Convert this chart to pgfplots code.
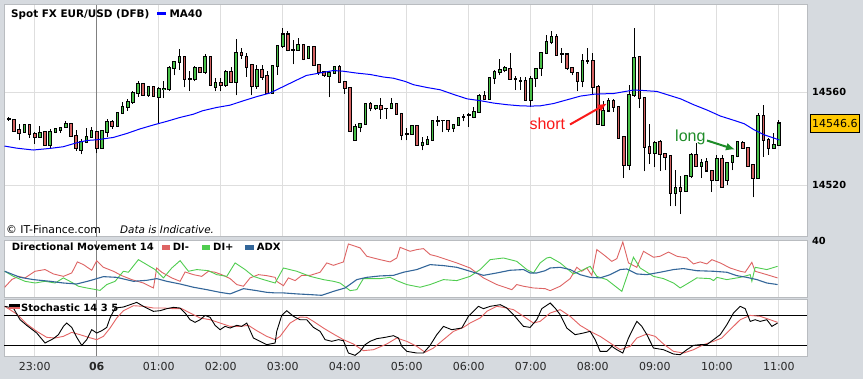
\documentclass[border=0pt]{standalone}
\usepackage{pgfplots}
\usepackage{pgfplotstable}
\pgfplotsset{compat=1.18}
\usepackage{fontspec}
\setmainfont{DejaVu Sans}
\newfontfamily\arialfont{Liberation Sans}
\usetikzlibrary{arrows.meta}
\definecolor{bgc}{RGB}{214,218,223}
\definecolor{bordc}{RGB}{185,188,192}
\definecolor{gridc}{RGB}{222,222,222}
\definecolor{upc}{RGB}{72,192,72}
\definecolor{dnc}{RGB}{212,98,98}
\definecolor{dimc}{RGB}{222,100,100}
\definecolor{dipc}{RGB}{80,205,80}
\definecolor{adxc}{RGB}{51,102,153}
\definecolor{stdc}{RGB}{228,100,100}
\definecolor{pricebox}{RGB}{255,200,0}
\definecolor{shortc}{RGB}{250,25,25}
\definecolor{longc}{RGB}{30,140,40}
\definecolor{tlab}{RGB}{40,40,40}

\pgfplotstableread{
i o h l c
0 14548.4 14549.1 14547.7 14548.4
1 14548.2 14548.4 14543.1 14543.1
2 14543.7 14546.2 14539.2 14542.2
3 14542.8 14546.0 14542.5 14545.9
4 14546.1 14546.4 14540.2 14541.9
5 14542.1 14542.8 14537.6 14540.5
6 14540.6 14545.5 14540.5 14542.7
7 14542.9 14543.1 14537.1 14537.3
8 14537.3 14544.2 14535.9 14543.1
9 14542.9 14544.7 14542.4 14544.1
10 14543.8 14545.1 14542.5 14544.5
11 14544.8 14547.5 14544.7 14546.4
12 14546.4 14546.5 14540.9 14541.1
13 14541.2 14543.7 14534.8 14535.9
14 14535.1 14539.9 14533.2 14538.5
15 14538.5 14544.4 14538.1 14540.9
16 14540.8 14544.8 14540.5 14543.4
17 14542.8 14542.9 14533.6 14535.9
18 14535.9 14543.8 14535.8 14543.4
19 14542.8 14548.4 14540.9 14547.2
20 14547.2 14547.8 14544.2 14545.4
21 14545.4 14551.4 14545.2 14551.1
22 14551.0 14555.8 14550.7 14553.7
23 14553.7 14557.1 14552.1 14555.7
24 14555.6 14560.4 14555.1 14559.6
25 14559.6 14564.6 14558.1 14563.4
26 14563.4 14563.7 14558.4 14558.7
27 14558.6 14562.4 14558.1 14562.3
28 14562.3 14562.4 14558.0 14558.1
29 14557.8 14562.3 14546.2 14561.3
30 14561.3 14564.6 14557.4 14561.6
31 14561.3 14571.2 14560.6 14570.3
32 14570.3 14573.5 14567.2 14572.9
33 14572.9 14578.5 14569.7 14575.1
34 14575.1 14575.2 14562.0 14565.6
35 14565.6 14568.9 14560.4 14565.6
36 14565.6 14571.2 14564.6 14570.3
37 14570.3 14570.6 14568.5 14568.6
38 14568.5 14576.5 14567.7 14575.1
39 14575.1 14575.2 14562.8 14562.9
40 14562.2 14566.3 14560.3 14563.9
41 14563.9 14566.3 14560.3 14562.9
42 14562.9 14569.5 14562.4 14568.6
43 14568.6 14570.8 14564.2 14564.3
44 14564.3 14582.9 14558.6 14576.8
45 14576.8 14579.1 14574.2 14575.8
46 14575.3 14576.9 14566.7 14570.8
47 14571.6 14571.8 14558.6 14562.4
48 14562.4 14571.6 14561.3 14569.5
49 14569.5 14571.6 14565.2 14566.5
50 14566.9 14568.9 14559.6 14559.7
51 14559.7 14571.3 14559.6 14571.2
52 14571.2 14579.9 14567.5 14579.8
53 14579.8 14587.7 14579.2 14584.9
54 14584.9 14586.2 14577.5 14577.9
55 14578.4 14582.4 14572.0 14578.2
56 14578.2 14583.2 14577.8 14580.2
57 14580.2 14580.6 14573.8 14574.2
58 14574.5 14579.5 14574.2 14579.4
59 14579.5 14579.9 14571.5 14571.6
60 14571.6 14571.7 14567.5 14568.5
61 14568.7 14568.9 14566.7 14567.3
62 14566.7 14569.2 14557.7 14568.2
63 14568.2 14571.2 14567.9 14571.0
64 14571.0 14571.5 14564.2 14564.3
65 14564.3 14564.4 14559.3 14561.6
66 14561.7 14561.8 14543.0 14543.1
67 14539.4 14546.2 14539.2 14545.1
68 14544.8 14546.5 14542.7 14546.4
69 14546.2 14554.9 14546.1 14554.8
70 14554.8 14555.7 14551.7 14553.1
71 14553.0 14554.2 14552.3 14554.1
72 14554.1 14557.4 14548.5 14552.7
73 14553.0 14553.1 14548.4 14553.0
74 14553.0 14557.4 14552.7 14554.8
75 14554.8 14555.1 14550.4 14550.5
76 14550.5 14550.6 14539.2 14541.5
77 14542.1 14544.5 14539.2 14542.1
78 14541.9 14545.7 14541.8 14545.5
79 14545.7 14545.8 14537.2 14537.3
80 14537.3 14540.9 14534.9 14538.2
81 14537.6 14541.2 14537.5 14539.5
82 14539.4 14547.8 14539.3 14547.7
83 14547.7 14549.7 14545.4 14547.7
84 14547.8 14547.9 14542.7 14547.8
85 14547.8 14547.9 14542.9 14544.2
86 14544.4 14546.0 14542.8 14545.9
87 14545.7 14548.9 14545.6 14548.8
88 14549.2 14550.5 14547.4 14549.2
89 14550.3 14551.0 14544.9 14550.3
90 14549.2 14553.8 14548.7 14551.4
91 14551.4 14559.3 14551.3 14558.4
92 14558.4 14560.7 14556.9 14557.0
93 14557.1 14566.3 14557.0 14566.2
94 14565.9 14569.5 14563.4 14568.7
95 14568.7 14574.2 14567.2 14569.6
96 14569.5 14571.3 14568.5 14570.5
97 14570.0 14576.9 14565.5 14565.6
98 14565.6 14567.0 14560.9 14565.6
99 14565.0 14566.5 14561.0 14565.0
100 14564.9 14566.7 14556.3 14556.4
101 14556.4 14567.0 14553.7 14565.7
102 14566.0 14570.0 14562.4 14569.9
103 14570.2 14576.9 14566.9 14576.8
104 14576.6 14584.7 14576.5 14581.5
105 14581.5 14586.4 14580.6 14583.9
106 14583.9 14585.1 14576.0 14576.1
107 14576.6 14579.2 14572.6 14576.6
108 14576.3 14576.4 14569.6 14570.5
109 14570.3 14570.4 14567.2 14568.7
110 14568.2 14568.3 14560.3 14564.6
111 14564.6 14576.3 14562.0 14573.5
112 14573.5 14579.2 14572.2 14573.5
113 14573.5 14576.8 14558.9 14562.2
114 14562.2 14563.0 14545.9 14546.2
115 14545.9 14556.0 14545.5 14552.0
116 14552.0 14557.4 14551.4 14556.3
117 14556.3 14557.1 14551.4 14553.5
118 14553.7 14553.8 14540.1 14540.2
119 14540.8 14540.9 14523.0 14528.7
120 14528.7 14562.9 14526.3 14558.9
121 14558.6 14587.8 14558.1 14574.9
122 14575.2 14575.3 14553.1 14557.4
123 14557.4 14557.5 14525.9 14536.2
124 14536.5 14546.5 14529.0 14533.6
125 14533.6 14538.8 14527.6 14538.2
126 14538.5 14539.4 14526.2 14533.3
127 14533.3 14533.4 14526.3 14532.0
128 14532.6 14532.7 14510.8 14516.6
129 14516.6 14526.3 14510.8 14518.7
130 14518.9 14524.0 14507.5 14517.4
131 14517.4 14524.0 14517.3 14523.9
132 14523.9 14533.8 14523.0 14533.2
133 14533.0 14538.1 14528.1 14528.2
134 14528.2 14531.3 14523.0 14529.6
135 14530.2 14531.6 14525.9 14526.2
136 14526.3 14526.4 14517.0 14522.2
137 14522.2 14532.8 14522.0 14531.3
138 14531.3 14532.8 14519.0 14519.1
139 14522.0 14529.8 14519.9 14529.7
140 14529.7 14532.7 14526.3 14532.6
141 14532.6 14539.1 14531.9 14538.6
142 14538.1 14538.8 14535.6 14535.9
143 14535.9 14536.2 14528.2 14528.3
144 14528.7 14528.8 14514.7 14523.0
145 14523.0 14551.0 14522.7 14550.0
146 14550.0 14554.6 14532.3 14539.5
147 14539.5 14540.2 14533.0 14535.9
148 14535.9 14542.4 14535.6 14537.3
149 14537.1 14548.1 14537.0 14546.6
}\candles

\pgfplotstableread{
i v
-0.85 14536.8
1.5 14535.9
4.7 14535.1
8.0 14535.8
10.5 14536.5
13.1 14538.2
15.1 14539.2
17 14539.5
20.2 14540.5
22.8 14542.2
25.4 14544.2
28 14545.9
30.5 14547.4
33.1 14549.1
35.7 14550.5
37.5 14552.0
40.2 14553.4
42.8 14554.4
45.4 14556.3
48 14558.1
50.5 14559.6
53.1 14562.4
55.7 14565.2
57.6 14567.2
59.6 14568.0
62.8 14569.3
64.7 14569.0
67.3 14568.2
69.9 14567.6
72.5 14566.5
74.4 14566.0
76.7 14564.6
78.3 14563.2
80.9 14562.0
83.5 14561.0
86.2 14558.9
88.7 14557.1
91.3 14556.3
93.8 14555.3
96.4 14554.6
99 14554.1
100.9 14554.0
102.8 14554.1
105.4 14555.1
108 14556.7
110.6 14558.3
113.2 14559.1
115.4 14559.3
117 14559.4
119.3 14560.3
120.9 14560.9
122.8 14560.7
125.4 14560.3
127.4 14558.9
130 14557.1
132.5 14554.6
135.1 14552.3
137.7 14549.7
140.4 14547.8
142.3 14546.4
144.2 14543.8
146.2 14541.6
148.1 14540.2
149.1 14539.4
}\madata

\pgfplotstableread{
i v
-0.81 7.1
0.55 12.5
1.84 14.8
3.13 13.7
5.06 18.4
7.0 19.6
8.61 16.5
10.55 14.8
12.16 17.2
13.26 25.0
14.42 23.1
16.03 19.1
17.0 25.9
18.29 21.2
20.23 18.4
21.84 15.3
23.77 12.5
26.03 10.1
27.97 6.6
28.61 20.7
29.58 17.7
31.52 13.7
33.13 11.3
34.1 17.9
35.71 16.0
37.32 14.8
38.61 18.4
39.9 17.7
41.19 16.0
42.81 13.2
44.1 9.0
45.39 7.8
46.68 13.7
48.29 16.0
49.9 15.3
51.52 14.1
51.83 11.3
53.12 8.2
54.09 13.7
55.38 11.8
56.67 15.5
58.28 15.5
60.22 17.7
61.51 24.3
62.8 22.6
64.73 25.0
65.7 37.7
67.96 34.9
69.25 29.0
71.83 26.6
73.77 25.0
75.06 27.8
75.7 35.3
77.64 32.5
78.93 33.7
80.22 34.4
81.51 30.2
82.8 29.0
86.67 24.3
89.25 20.7
91.83 13.7
94.41 9.0
96.35 6.6
97.32 5.4
98.28 9.0
99.57 7.8
101.51 6.6
103.77 6.1
104.74 4.7
106.67 7.8
108.61 13.2
109.9 21.2
110.86 18.4
111.83 20.7
112.8 15.5
113.77 33.7
115.06 30.2
116.67 25.4
117.64 27.3
118.8 39.1
119.9 24.3
121.51 21.2
122.8 32.5
124.74 28.3
126.03 29.0
127.64 32.0
129.25 29.0
131.19 27.8
132.48 23.6
133.77 25.0
135.06 23.6
136.03 26.6
137.64 24.3
139.57 20.7
141.51 18.4
142.48 17.7
143.77 24.7
144.41 18.4
146.67 16.0
148.74 13.7
}\dimdata

\pgfplotstableread{
i v
-0.81 18.4
0.87 14.8
3.13 11.3
5.06 10.1
7.0 11.3
8.94 10.1
10.55 13.7
12.16 10.6
13.45 7.8
15.06 6.6
17.64 4.9
18.94 9.0
20.55 11.3
22.16 18.4
23.13 17.7
25.06 26.6
26.68 23.1
28.29 19.6
29.9 13.7
31.52 20.7
33.13 25.9
34.74 18.4
36.35 19.6
38.61 18.8
40.23 16.0
42.16 14.8
43.77 24.3
45.71 19.6
47.32 14.8
49.26 12.5
51.52 10.1
53.12 20.7
55.7 18.4
58.28 14.8
60.86 12.5
62.8 11.3
64.09 10.1
66.03 4.7
67.32 5.4
68.6 13.2
71.83 13.2
73.77 14.1
75.06 11.8
76.99 9.0
79.57 7.1
81.51 9.0
84.09 12.5
86.67 11.8
89.25 14.8
91.19 19.6
93.12 26.6
95.7 27.8
98.28 25.4
100.22 19.6
101.51 17.2
102.8 24.3
104.09 27.8
104.74 28.3
106.67 24.3
109.25 16.5
111.19 19.6
112.48 21.9
113.77 14.8
115.7 12.5
118.61 4.2
120.86 28.3
122.16 20.7
124.74 14.8
126.67 13.2
128.61 10.1
129.9 6.6
131.83 10.8
133.12 13.7
135.7 13.2
136.35 11.8
137.0 14.1
138.93 12.5
141.51 14.1
143.45 16.0
143.77 11.3
144.41 21.2
146.67 19.6
148.74 21.9
}\dipdata

\pgfplotstableread{
i v
-0.81 18.4
2.16 14.1
4.74 12.5
7.97 11.3
10.55 10.1
13.13 9.4
15.71 11.8
18.29 14.6
20.87 14.1
24.1 11.3
26.68 12.0
28.61 13.2
30.55 11.3
33.13 9.4
35.71 7.1
38.29 5.4
40.87 3.5
42.81 2.4
45.39 6.1
47.97 4.7
49.9 3.5
51.52 3.1
53.12 3.1
55.7 2.4
58.28 1.9
60.54 1.4
62.8 4.2
65.06 6.6
67.32 12.5
69.25 14.1
71.83 15.1
74.41 15.5
76.35 17.7
78.93 19.6
81.51 23.1
84.09 22.4
86.67 21.2
89.25 18.4
91.83 15.5
94.41 17.2
96.99 19.1
99.57 19.6
100.86 17.2
102.15 17.2
103.77 18.8
104.74 20.7
106.67 21.2
108.61 19.6
110.54 16.0
112.48 14.1
114.41 13.7
116.35 16.0
118.28 19.6
119.57 20.0
121.51 16.5
123.45 16.0
126.03 17.7
128.61 19.6
130.54 20.3
133.12 18.8
136.35 18.4
138.93 17.7
140.86 15.3
142.8 14.1
144.74 12.5
146.67 10.1
148.74 9.0
}\adxdata

\pgfplotstableread{
i v
-0.81 90.1
0.87 87.3
2.16 67.6
3.45 58.1
5.39 45.2
7.0 28.4
8.61 35.7
9.58 42.4
10.55 56.4
11.19 62.0
12.16 54.7
13.13 37.9
14.1 24.4
15.06 34.0
16.03 50.8
17.0 45.2
17.97 49.1
18.94 54.7
19.58 70.5
20.55 87.3
22.16 89.0
23.45 92.9
24.74 96.8
26.03 90.1
27.97 81.7
29.26 82.8
30.55 86.2
31.84 88.4
33.13 87.3
34.1 78.9
35.06 67.6
36.03 63.2
37.0 67.6
37.97 74.9
38.94 71.6
39.9 58.1
40.87 50.8
41.84 56.4
42.81 53.6
44.1 58.1
45.06 56.4
46.03 62.0
47.32 36.8
48.61 31.2
49.9 25.6
51.52 28.4
51.83 48.0
52.8 74.9
53.77 82.8
55.06 73.3
56.35 67.6
57.64 67.6
58.93 54.7
60.22 48.0
61.19 34.0
62.48 31.2
63.77 34.0
64.73 32.3
65.7 11.5
66.99 7.6
67.96 14.3
68.93 25.6
69.89 31.2
71.19 35.7
72.8 37.9
74.41 40.7
75.38 36.8
76.03 22.8
77.0 14.3
78.93 11.5
80.22 11.5
81.51 24.4
82.8 42.4
84.09 56.4
85.7 50.8
87.64 53.6
88.93 73.3
90.86 90.1
91.83 86.2
93.12 90.1
95.06 92.9
96.35 87.3
97.64 76.1
99.57 56.4
100.86 54.7
102.15 67.6
103.12 86.2
104.74 95.7
105.7 87.3
106.67 76.1
107.96 53.6
109.57 42.4
111.19 45.2
112.48 48.0
113.45 34.0
114.41 14.3
115.7 14.3
116.67 22.8
117.64 17.1
118.8 11.5
119.9 36.8
120.86 53.6
121.51 64.8
122.48 56.4
123.45 42.4
124.74 19.9
126.67 17.1
128.61 9.8
129.9 8.7
131.19 17.1
132.48 24.4
133.77 25.6
135.06 25.6
136.35 34.0
137.64 42.4
138.93 59.2
140.22 78.9
141.51 90.1
142.48 86.2
143.45 64.8
144.41 67.6
145.38 64.8
146.67 67.6
147.64 56.4
148.74 62.0
}\stkdata

\pgfplotstableread{
i v
-0.81 90.1
1.52 77.2
3.45 60.4
5.39 48.0
7.32 37.9
8.94 36.8
10.55 39.6
12.16 46.3
13.77 42.4
15.39 37.9
17.0 34.0
18.29 39.6
19.58 53.6
20.87 70.5
22.16 82.8
24.1 91.2
26.03 90.1
27.97 87.3
29.9 87.3
31.84 86.2
33.45 86.2
35.06 78.9
37.0 70.5
38.94 67.6
40.87 62.0
42.81 56.4
44.74 56.4
46.35 58.1
47.97 49.1
49.9 39.6
51.52 34.0
52.48 39.6
54.41 62.0
56.35 72.1
57.64 71.6
58.93 64.8
60.86 53.6
62.8 43.5
64.73 34.0
66.67 26.7
68.6 15.5
70.54 17.1
73.12 26.7
75.06 36.8
76.99 31.2
78.93 22.8
80.54 12.7
82.15 19.9
84.09 34.0
86.03 48.0
87.96 54.7
89.25 62.0
91.19 70.5
92.48 81.7
94.41 90.1
95.7 88.4
97.64 84.5
99.57 73.3
101.51 62.0
102.8 64.8
104.74 78.9
106.67 84.5
108.61 73.3
110.54 58.1
112.48 48.0
114.41 39.6
116.35 28.4
118.28 17.1
120.22 22.8
121.51 36.8
123.45 43.5
125.06 39.6
126.67 26.7
128.61 14.3
130.54 11.5
132.48 17.1
134.41 25.6
136.35 31.2
137.96 36.8
139.57 50.8
141.51 67.6
143.45 74.9
145.38 73.3
147.32 67.6
148.74 63.2
}\stddata

\pgfplotsset{
  panel/.style={
    scale only axis, anchor=north west, width=802.8pt,
    xmin=-0.85, xmax=154.5,
    axis background/.style={fill=white},
    axis line style={draw=bordc, line width=1pt},
    major tick length=0pt,
    xtick={5,29,41,53,65,77,89,101,113,125,137,149},
    xticklabels={},
    xmajorgrids,
    grid style={draw=gridc, line width=1pt},
    extra x ticks={17}, extra x tick labels={},
    extra x tick style={xmajorgrids=true, major grid style={draw=gray, line width=1pt}},
    yticklabel pos=right,
    yticklabel style={anchor=west, inner sep=0pt, xshift=4.5pt, font=\bfseries\fontsize{9.8}{11}\selectfont},
  },
}

\begin{document}
\begin{tikzpicture}[x=1pt,y=1pt]
\fill[bgc] (0pt,0pt) rectangle (863pt,-379pt);

% ---------- price panel
\begin{axis}[panel, at={(4.5pt,-5pt)}, height=231.7pt,
  ymin=14497.8, ymax=14597.5,
  ytick={14520,14560}, yticklabels={14520,14560}, ymajorgrids]
\addplot[draw=none, mark=none, error bars/.cd, y dir=plus, y explicit, error mark=none,
  error bar style={draw=black, line width=1pt}]
  table[x=i, y=l, y error expr=\thisrow{h}-\thisrow{l}] {\candles};
\addplot[draw=none, mark=none, error bars/.cd, y dir=both, y explicit, error mark=none,
  error bar style={draw=black, line width=3.6pt}]
  table[x=i, y expr=0.5*\thisrow{o}+0.5*\thisrow{c}, y error expr=abs(\thisrow{c}-\thisrow{o})/2+0.35] {\candles};
\addplot[draw=none, mark=none, restrict expr to domain={\thisrow{c}-\thisrow{o}}{0.05:1000},
  error bars/.cd, y dir=both, y explicit, error mark=none,
  error bar style={draw=upc, line width=1.6pt}]
  table[x=i, y expr=0.5*\thisrow{o}+0.5*\thisrow{c}, y error expr=abs(\thisrow{c}-\thisrow{o})/2-0.1] {\candles};
\addplot[draw=none, mark=none, restrict expr to domain={\thisrow{o}-\thisrow{c}}{0.05:1000},
  error bars/.cd, y dir=both, y explicit, error mark=none,
  error bar style={draw=dnc, line width=1.6pt}]
  table[x=i, y expr=0.5*\thisrow{o}+0.5*\thisrow{c}, y error expr=abs(\thisrow{c}-\thisrow{o})/2-0.1] {\candles};
\addplot[blue, line width=1pt, mark=none] table[x=i, y=v] {\madata};
\end{axis}

% ---------- directional movement panel
\begin{axis}[panel, at={(4.5pt,-240.7pt)}, height=56.6pt,
  ymin=0, ymax=40, ytick={40}, yticklabels={40}]
\addplot[dimc, line width=0.9pt, mark=none] table[x=i, y=v] {\dimdata};
\addplot[dipc, line width=0.9pt, mark=none] table[x=i, y=v] {\dipdata};
\addplot[adxc, line width=1.1pt, mark=none] table[x=i, y=v] {\adxdata};
\end{axis}

% ---------- stochastic panel
\begin{axis}[panel, at={(4.5pt,-300pt)}, height=56.3pt,
  ymin=6, ymax=100.8, ytick=\empty,
  extra y ticks={25,75}, extra y tick labels={},
  extra y tick style={ymajorgrids=true, major grid style={draw=black, line width=1pt}},
  xticklabels={23:00,01:00,02:00,03:00,04:00,05:00,06:00,07:00,08:00,09:00,10:00,11:00},
  xticklabel style={anchor=base, inner sep=0pt, yshift=-14.7pt, font=\fontsize{11}{13}\selectfont, text=tlab},
  extra x tick labels={\textbf{06}}]
\addplot[stdc, line width=0.9pt, mark=none] table[x=i, y=v] {\stddata};
\addplot[black, line width=0.9pt, mark=none] table[x=i, y=v] {\stkdata};
\end{axis}

% ---------- legends and annotations
\node[anchor=base west, inner sep=0pt, font=\bfseries\fontsize{10.4}{12}\selectfont] at (11pt,-17.7pt) {Spot FX EUR/USD (DFB)};
\fill[blue] (157.3pt,-12pt) rectangle (166pt,-15.5pt);
\node[anchor=base west, inner sep=0pt, font=\bfseries\fontsize{10.4}{12}\selectfont] at (169.3pt,-17.7pt) {MA40};

\node[anchor=base west, inner sep=0pt, font=\fontsize{10.8}{13}\selectfont] at (6pt,-234pt) {© IT-Finance.com};
\node[anchor=base west, inner sep=0pt, font=\itshape\fontsize{10.4}{12}\selectfont] at (120pt,-234pt) {Data is Indicative.};

\node[anchor=base west, inner sep=0pt, font=\bfseries\fontsize{10}{12}\selectfont] at (11.7pt,-251pt) {Directional Movement 14};
\fill[dimc] (161.7pt,-245.5pt) rectangle (170pt,-250.5pt);
\node[anchor=base west, inner sep=0pt, font=\bfseries\fontsize{10}{12}\selectfont] at (172.7pt,-251pt) {DI-};
\fill[dipc] (201.7pt,-245.5pt) rectangle (210pt,-250.5pt);
\node[anchor=base west, inner sep=0pt, font=\bfseries\fontsize{10}{12}\selectfont] at (213pt,-251pt) {DI+};
\fill[adxc] (245pt,-245.5pt) rectangle (254pt,-250.5pt);
\node[anchor=base west, inner sep=0pt, font=\bfseries\fontsize{10}{12}\selectfont] at (256.7pt,-251pt) {ADX};

\fill[black] (9pt,-304.5pt) rectangle (20pt,-307pt);
\fill[stdc] (9pt,-307pt) rectangle (20pt,-309.5pt);
\node[anchor=base west, inner sep=0pt, font=\bfseries\fontsize{10}{12}\selectfont] at (21pt,-312pt) {Stochastic 14 3 5};

\node[draw=black, fill=pricebox, line width=0.8pt, inner sep=0pt, minimum width=49.6pt, minimum height=18pt, anchor=west, font=\fontsize{11}{13}\selectfont] at (809.7pt,-123.3pt) {14546.6};

\node[anchor=base west, inner sep=0pt, text=shortc] at (529.3pt,-129.3pt) {\arialfont\fontsize{16}{18}\selectfont short};
\draw[shortc, line width=2pt, -{Latex[length=9pt,width=8pt]}] (570pt,-124.5pt) -- (607pt,-103.5pt);
\node[anchor=base west, inner sep=0pt, text=longc] at (675pt,-141.5pt) {\arialfont\fontsize{16}{18}\selectfont long};
\draw[longc, line width=2pt, -{Latex[length=9pt,width=8pt]}] (707pt,-140.5pt) -- (735pt,-149.5pt);

\pgfresetboundingbox
\path (0pt,0pt) rectangle (863pt,-379pt);
\end{tikzpicture}
\end{document}
